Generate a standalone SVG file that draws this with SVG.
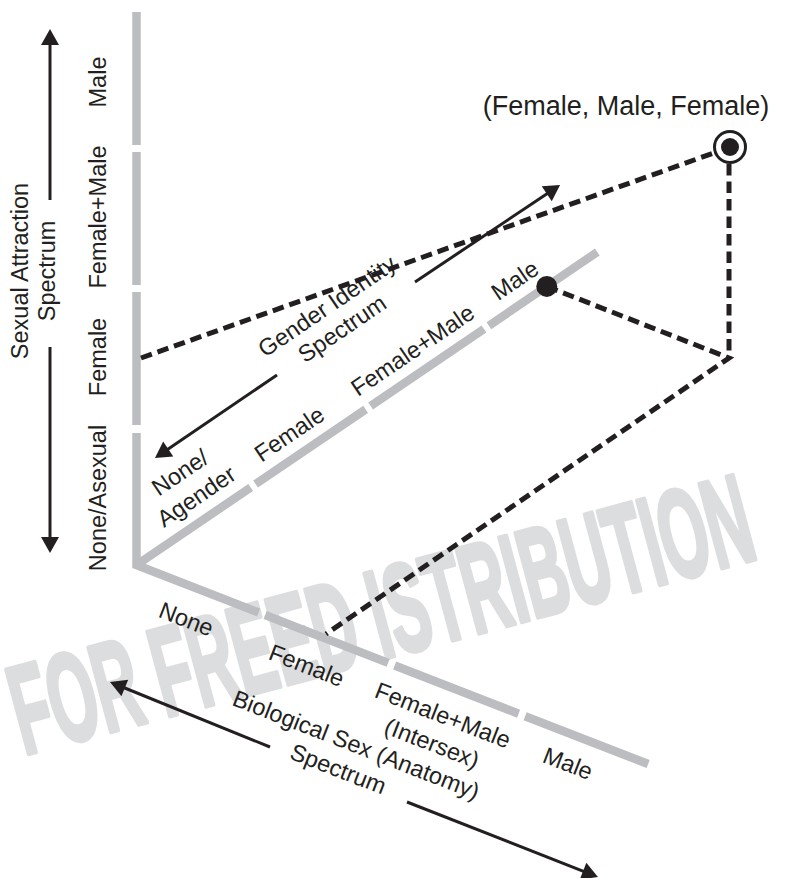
<svg xmlns="http://www.w3.org/2000/svg" width="793" height="878" viewBox="0 0 793 878">
<style>
.t{font-family:"Liberation Sans",Arial,sans-serif;font-size:23.5px;fill:#231f20;}
.m{text-anchor:middle;}
.ax{stroke:#bcbdc0;stroke-width:8.5;fill:none;stroke-linecap:butt;}
.dash{stroke:#231f20;stroke-width:5;fill:none;stroke-dasharray:11.5 6;}
.arr{stroke:#231f20;stroke-width:3;fill:none;marker-end:url(#ah);}
.wm{font-family:"Liberation Sans",Arial,sans-serif;font-weight:bold;font-size:126px;fill:#dcdddf;stroke:#dcdddf;stroke-width:5;stroke-linejoin:round;}
</style>
<defs>
<marker id="ah" markerUnits="userSpaceOnUse" viewBox="-18 -10 19 20" markerWidth="19" markerHeight="20" refX="-8" refY="0" orient="auto">
<path d="M0,0 L-16,-9 L-16,9 z" fill="#231f20"/>
</marker>
</defs>
<rect width="793" height="878" fill="#ffffff"/>
<g id="watermark">
<text class="wm" transform="translate(24,755) rotate(-15)" textLength="762" lengthAdjust="spacingAndGlyphs">FOR FREED ISTRIBUTION</text>
</g>
<g id="attraction-axis">
<line class="ax" x1="136.5" y1="12" x2="136.5" y2="145"/>
<line class="ax" x1="136.5" y1="152" x2="136.5" y2="285"/>
<line class="ax" x1="136.5" y1="292" x2="136.5" y2="425"/>
<polyline class="ax" points="136.5,433 136.5,565 258.6,612.5" stroke-linejoin="miter"/>
<text class="t m" transform="translate(105.5,82) rotate(-90)">Male</text>
<text class="t m" transform="translate(105.5,217) rotate(-90)">Female+Male</text>
<text class="t m" transform="translate(105.5,357) rotate(-90)">Female</text>
<text class="t m" transform="translate(105.5,498) rotate(-90)">None/Asexual</text>
</g>
<g id="attraction-title">
<text class="t m" transform="translate(27.5,271) rotate(-90)">Sexual Attraction</text>
<text class="t m" transform="translate(55,271) rotate(-90)">Spectrum</text>
</g>
<g id="gender-axis" transform="translate(136.5,565) rotate(-34.18)">
<line class="ax" x1="0" y1="0" x2="138" y2="0"/>
<line class="ax" x1="144" y1="0" x2="277" y2="0"/>
<line class="ax" x1="283" y1="0" x2="420" y2="0"/>
<line class="ax" x1="426" y1="0" x2="557" y2="0"/>
<text class="t m" x="88" y="-44">None/</text>
<text class="t m" x="88" y="-15">Agender</text>
<text class="t m" x="200" y="-14.5">Female</text>
<text class="t m" x="349" y="-14.5">Female+Male</text>
<text class="t m" x="473" y="-15">Male</text>
<text class="t m" x="303" y="-99">Gender Identity</text>
<text class="t m" x="303" y="-72">Spectrum</text>
</g>
<g id="bio-axis" transform="translate(136.5,565) rotate(21.26)">
<line class="ax" x1="138" y1="0" x2="270" y2="0"/>
<line class="ax" x1="277" y1="0" x2="410" y2="0"/>
<line class="ax" x1="417" y1="0" x2="549" y2="0"/>
<text class="t m" x="66" y="40.5">None</text>
<text class="t m" x="195" y="40">Female</text>
<text class="t m" x="340" y="37">Female+Male</text>
<text class="t m" x="340" y="67">(Intersex)</text>
<text class="t m" x="474" y="36.5">Male</text>
<text class="t m" x="270" y="96">Biological Sex (Anatomy)</text>
<text class="t m" x="262" y="125">Spectrum</text>
</g>
<g id="connectors">
<line class="dash" x1="141" y1="358" x2="714.5" y2="152.7"/>
<line class="dash" x1="729" y1="164" x2="729" y2="358"/>
<polyline class="dash" points="546.8,286.4 729,358 326,634" stroke-linejoin="miter"/>
<line class="arr" x1="50" y1="200" x2="50" y2="37"/>
<line class="arr" x1="50" y1="347" x2="50" y2="545"/>
<line class="arr" x1="415" y1="282" x2="553.4" y2="189.4"/>
<line class="arr" x1="277" y1="375" x2="161.6" y2="453.5"/>
<line class="arr" x1="270" y1="747" x2="117.4" y2="685"/>
<line class="arr" x1="407" y1="802" x2="590.5" y2="874.1"/>
</g>
<g id="point-male">
<circle cx="546.8" cy="286.4" r="10.5" fill="#231f20"/>
</g>
<g id="point-target">
<circle cx="730" cy="147" r="15.5" fill="#ffffff" stroke="#231f20" stroke-width="3"/>
<circle cx="730" cy="147" r="9" fill="#231f20"/>
<text class="t m" x="626" y="115" style="font-size:27px">(Female, Male, Female)</text>
</g>
</svg>
